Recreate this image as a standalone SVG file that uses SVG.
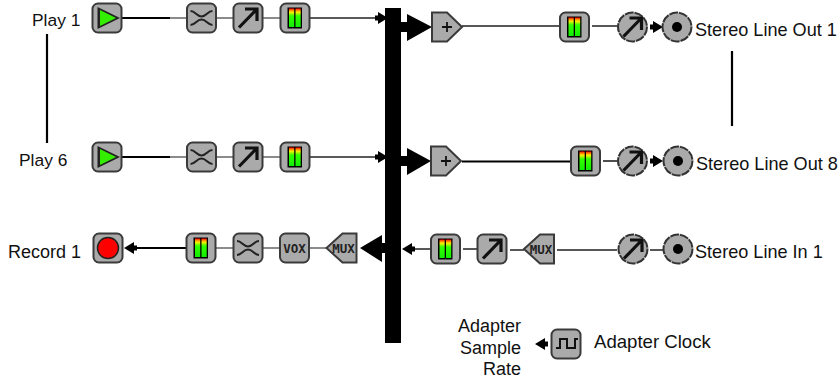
<svg xmlns="http://www.w3.org/2000/svg" width="840" height="379" viewBox="0 0 840 379">
<style>
text{font-family:"Liberation Sans",Arial,sans-serif;font-size:18px;fill:#111}
.st{font-size:18.100px}
.pl{font-size:17.400px}
.box{fill:#aaa;stroke:#3a3a3a;stroke-width:2}
.ring{fill:#aaa;stroke:#333;stroke-width:2;stroke-dasharray:9 1}
.w{fill:none;stroke:#222;stroke-width:1.600}
.g{fill:none;stroke:#666;stroke-width:1.600}
.b{fill:none;stroke:#000;stroke-width:2.200}
.m{font-family:"DejaVu Sans Mono",monospace;font-size:12.500px;font-weight:bold;fill:#222}
</style>
<defs>
<linearGradient id="vu" x1="0" y1="0" x2="0" y2="1"><stop offset="0" stop-color="#f00"/><stop offset=".1" stop-color="#f80"/><stop offset=".2" stop-color="#fe0"/><stop offset=".4" stop-color="#3f0"/><stop offset="1" stop-color="#1e0"/></linearGradient>
<rect id="base" class="box" x="-14.500" y="-14.500" width="29" height="29" rx="5.500"/>
<g id="meter"><use href="#base"/><rect x="-7.500" y="-10.500" width="14.500" height="21" fill="#000"/><rect x="-6" y="-9.500" width="5.200" height="18.500" fill="url(#vu)"/><rect x=".5" y="-9.500" width="5.200" height="18.500" fill="url(#vu)"/></g>
<g id="shuffle"><use href="#base"/><path d="M-11-7C-6-7-5-1.500 0-1.500S6-7 11-7M-11 7C-6 7-5 1.500 0 1.500S6 7 11 7" fill="none" stroke="#222" stroke-width="2"/></g>
<g id="gainarrow"><path d="M-9 9.500L8-8M-3-9H9V3" fill="none" stroke="#111" stroke-width="3.200"/></g>
<g id="gain"><use href="#base"/><use href="#gainarrow"/></g>
<g id="gainc"><circle class="ring" r="14.500"/><use href="#gainarrow"/></g>
<g id="out"><circle class="ring" r="14.500"/><circle r="5" fill="#000"/></g>
<g id="play"><use href="#base"/><path d="M-9.500-11V11L13 0Z" fill="#222"/><path d="M-7-8V8L9 0Z" fill="#3e0"/></g>
<g id="sum"><path class="box" d="M-15-14.500H0L15 0 0 14.500H-15Z"/><path d="M-5 0H5M0-5V5" stroke="#111" stroke-width="1.800"/></g>
<g id="mux"><path class="box" d="M15-14.500H1L-15 0 1 14.500H15Z"/><text class="m" x="2" y="4.500" text-anchor="middle">MUX</text></g>
<path id="small" d="M0 0L10-6V-2.500H13V2.500H10V6Z" fill="#000"/>
<path id="smallr" d="M13 0L3-6V-2.500H0V2.500H3V6Z" fill="#000"/>
</defs>

<g id="connectors">
<path class="b" d="M122 18H170"/><path class="g" d="M170 18H187M216 18H234M262 18H280"/><path class="w" d="M310 18H376"/>
<path class="b" d="M122 157H170"/><path class="g" d="M170 157H187M216 157H234M262 157H280"/><path class="w" d="M310 157H376"/>
<use href="#smallr" x="375" y="18"/><use href="#smallr" x="375" y="157"/>
<path d="M401 22H407V14L432 27 407 41V32H401Z" fill="#000"/>
<path d="M401 156H407V148L431 161 407 175V166H401Z" fill="#000"/>
<path class="w" d="M462 26H559M592 26H617"/>
<path class="b" d="M462 161.500H571"/><path class="w" d="M603 161H617"/>
<use href="#smallr" x="650" y="27"/><use href="#smallr" x="650" y="161"/>
<path class="b" d="M137 248H186"/><use href="#small" x="124" y="248"/>
<path class="g" d="M216 248H234M262 248H280M309 248H327"/>
<path d="M385 243H382V235L360 248 382 262V253H385Z" fill="#000"/>
<use href="#small" x="402" y="249"/>
<path class="w" d="M415 249H430M463 249H477M510 250H524M557 250H617M650 250H664"/>
<use href="#small" x="535" y="344"/>
<path class="b" d="M47 34V143"/><path class="b" d="M732 51V126"/>
</g>

<rect id="bus" x="385" y="8" width="16" height="335" fill="#000"/>

<g id="play1"><use href="#play" x="107" y="18"/></g>
<g id="shuffle1"><use href="#shuffle" x="201.500" y="18"/></g>
<g id="gain1"><use href="#gain" x="248" y="18"/></g>
<g id="meter1"><use href="#meter" x="295" y="18"/></g>
<g id="sum1"><use href="#sum" x="447" y="27"/></g>
<g id="meter1b"><use href="#meter" x="574.500" y="27"/></g>
<g id="gain1b"><use href="#gainc" x="632.500" y="27"/></g>
<g id="out1"><use href="#out" x="677" y="27"/></g>

<g id="play6"><use href="#play" x="107" y="157"/></g>
<g id="shuffle6"><use href="#shuffle" x="201.500" y="157"/></g>
<g id="gain6"><use href="#gain" x="248" y="157"/></g>
<g id="meter6"><use href="#meter" x="295" y="157"/></g>
<g id="sum8"><use href="#sum" x="446" y="161"/></g>
<g id="meter8"><use href="#meter" x="585.500" y="161"/></g>
<g id="gain8"><use href="#gainc" x="632.500" y="161"/></g>
<g id="out8"><use href="#out" x="678" y="161"/></g>

<g id="record1"><use href="#base" x="108" y="248"/><circle cx="108" cy="248" r="10.500" fill="#f00" stroke="#222" stroke-width="1.500"/></g>
<g id="meter-rec"><use href="#meter" x="201" y="248"/></g>
<g id="shuffle-rec"><use href="#shuffle" x="248" y="248"/></g>
<g id="vox"><use href="#base" x="294.500" y="248"/><text class="m" x="294.500" y="252.500" text-anchor="middle">VOX</text></g>
<g id="mux1"><use href="#mux" x="341.500" y="248"/></g>
<g id="meter-in"><use href="#meter" x="445.500" y="249"/></g>
<g id="gain-in"><use href="#gain" x="492" y="249"/></g>
<g id="mux2"><use href="#mux" x="539" y="249"/></g>
<g id="gain-inc"><use href="#gainc" x="633" y="249"/></g>
<g id="in1"><use href="#out" x="678" y="249"/></g>
<g id="clock"><use href="#base" x="566" y="344"/><path d="M556 348H560V339H567V348H575V339H578" fill="none" stroke="#111" stroke-width="2"/></g>

<g id="labels">
<text class="pl" x="32" y="26">Play 1</text>
<text class="pl" x="19" y="166">Play 6</text>
<text x="8" y="258">Record 1</text>
<text class="st" x="695" y="36">Stereo Line Out 1</text>
<text class="st" x="696" y="170">Stereo Line Out 8</text>
<text class="st" x="695" y="258">Stereo Line In 1</text>
<text x="594" y="348" style="font-size:18.600px">Adapter Clock</text>
<text x="521" y="332" text-anchor="end">Adapter</text>
<text x="521" y="354" text-anchor="end">Sample</text>
<text x="521" y="375" text-anchor="end">Rate</text>
</g>
</svg>
